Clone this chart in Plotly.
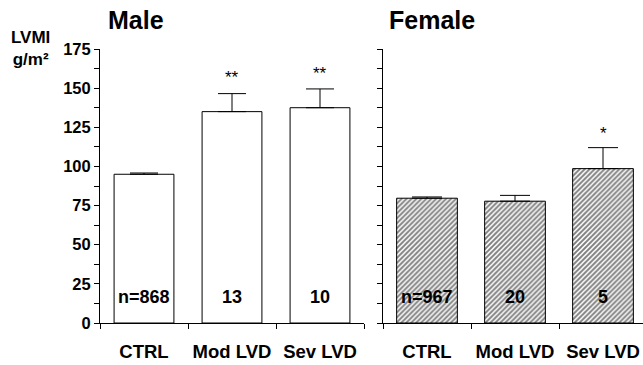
import plotly.graph_objects as go

categories = ["CTRL", "Mod LVD", "Sev LVD"]
male_values = [95, 135, 137.5]
male_err = [0.8, 11.5, 12]
female_values = [79.7, 77.8, 98.6]
female_err = [0.8, 3.7, 13.4]
male_n = ["n=868", "13", "10"]
female_n = ["n=967", "20", "5"]
male_sig = ["", "**", "**"]
female_sig = ["", "", "*"]
y_ticks = [0, 25, 50, 75, 100, 125, 150, 175]

W, H = 643, 365
FONT = "Liberation Sans"

fig = go.Figure()
fig.add_trace(go.Bar(
    x=categories, y=male_values, xaxis="x", yaxis="y", width=0.68,
    marker=dict(color="white", line=dict(color="black", width=1)),
    error_y=dict(type="data", symmetric=False, array=male_err,
                 arrayminus=[0, 0, 0], color="black", thickness=1, width=14),
    showlegend=False))
fig.add_trace(go.Bar(
    x=categories, y=female_values, xaxis="x2", yaxis="y2", width=0.69,
    marker=dict(color="white", line=dict(color="black", width=1),
                pattern=dict(shape="/", size=3.5, solidity=0.55,
                             fgcolor="black", bgcolor="white")),
    error_y=dict(type="data", symmetric=False, array=female_err,
                 arrayminus=[0, 0, 0], color="black", thickness=1, width=15),
    showlegend=False))

y_dom = [(H - 323) / H, (H - 49) / H]
axis_common = dict(showgrid=False, zeroline=False, showline=True,
                   linecolor="black", linewidth=1, automargin=False)

fig.update_layout(
    width=W, height=H, margin=dict(l=0, r=0, t=0, b=0),
    paper_bgcolor="white", plot_bgcolor="white",
    font=dict(family=FONT, color="black"),
    xaxis=dict(domain=[100 / W, 364 / W], range=[-0.5, 2.5], type="category",
               tickson="boundaries", ticks="outside", ticklen=5, tickcolor="black",
               tickfont=dict(family=FONT, size=18.5, weight="bold"),
               ticklabelstandoff=12,
               anchor="y", **axis_common),
    yaxis=dict(domain=y_dom, range=[0, 175], tickvals=y_ticks,
               ticks="outside", ticklen=5, tickcolor="black",
               tickfont=dict(family=FONT, size=16.5, weight="bold"),
               minor=dict(dtick=12.5, ticks="outside", ticklen=5, tickcolor="black"),
               anchor="x", **axis_common),
    xaxis2=dict(domain=[383 / W, 1.0], range=[-0.5, -0.5 + 260 / 88], type="category",
                tickson="boundaries", ticks="outside", ticklen=5, tickcolor="black",
                tickfont=dict(family=FONT, size=18.5, weight="bold"),
                ticklabelstandoff=12,
                anchor="y2", **axis_common),
    yaxis2=dict(domain=y_dom, range=[0, 175], tickvals=y_ticks, showticklabels=False,
                ticks="outside", ticklen=5, tickcolor="black",
                minor=dict(dtick=12.5, ticks="outside", ticklen=5, tickcolor="black"),
                anchor="x2", **axis_common),
)

ann = []
for c, t in zip(categories, male_n):
    ann.append(dict(x=c, y=16.5, xref="x", yref="y", text=t, showarrow=False,
                    font=dict(size=18, weight="bold")))
for c, t in zip(categories, female_n):
    ann.append(dict(x=c, y=16.5, xref="x2", yref="y2", text=t, showarrow=False,
                    font=dict(size=18, weight="bold")))
for c, t, v, e in zip(categories, male_sig, male_values, male_err):
    if t:
        ann.append(dict(x=c, y=v + e + 10, xref="x", yref="y", text=t, showarrow=False,
                        font=dict(size=17)))
for c, t, v, e in zip(categories, female_sig, female_values, female_err):
    if t:
        ann.append(dict(x=c, y=v + e + 9, xref="x2", yref="y2", text=t, showarrow=False,
                        font=dict(size=17)))
ann.append(dict(x=106 / W, y=1 - 20 / H, xref="paper", yref="paper", xanchor="left",
                yanchor="middle", text="Male", showarrow=False,
                font=dict(size=25, weight="bold")))
ann.append(dict(x=387 / W, y=1 - 20 / H, xref="paper", yref="paper", xanchor="left",
                yanchor="middle", text="Female", showarrow=False,
                font=dict(size=25, weight="bold")))
ann.append(dict(x=31 / W, y=1 - 48 / H, xref="paper", yref="paper", xanchor="center",
                yanchor="middle", text="LVMI<br>g/m²", showarrow=False,
                font=dict(size=17, weight="bold")))
fig.update_layout(annotations=ann)

fig.write_html("out.html")
